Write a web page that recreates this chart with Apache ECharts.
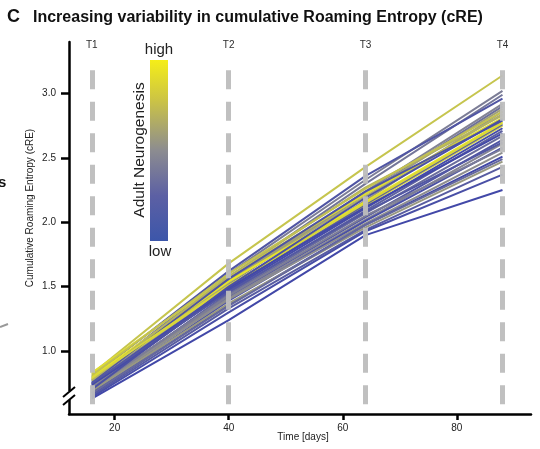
<!DOCTYPE html>
<html>
<head>
<meta charset="utf-8">
<script src="https://cdn.jsdelivr.net/npm/echarts@6/dist/echarts.min.js"></script>
<style>html,body{margin:0;padding:0;background:#fff;}#c{width:540px;height:449px;}</style>
</head>
<body>
<div id="c"></div>
<script>
// ---- data ----
var timepoints = [16, 40, 64, 88];
var timeLabels = ['T1', 'T2', 'T3', 'T4'];
var xTicks = [20, 40, 60, 80];
var yTicks = [1.0, 1.5, 2.0, 2.5, 3.0];
// adult neurogenesis (0 = low, 1 = high) per mouse
var neurogenesis = [0.82,0.40,0.35,0.10,0.45,0.30,0.62,0.55,0.68,0.95,1.00,0.90,0.08,0.15,0.03,0.20,0.00,0.28,0.10,0.48,0.05,0.52,0.00,0.58,0.15,0.05,0.00,0.72,0.80,0.12,0.40,0.92,0.25,0.06];
var creT1 = [0.82,0.77,0.75,0.80,0.74,0.73,0.78,0.72,0.79,0.83,0.80,0.78,0.76,0.71,0.73,0.69,0.74,0.70,0.68,0.72,0.67,0.70,0.66,0.69,0.65,0.64,0.63,0.77,0.81,0.75,0.71,0.79,0.67,0.70];
var creT2 = [1.68,1.60,1.57,1.62,1.53,1.52,1.55,1.49,1.53,1.58,1.54,1.50,1.56,1.48,1.47,1.45,1.49,1.44,1.42,1.41,1.39,1.40,1.36,1.37,1.33,1.30,1.24,1.58,1.60,1.46,1.43,1.51,1.35,1.50];
var creT3 = [2.43,2.33,2.30,2.36,2.24,2.22,2.22,2.17,2.20,2.22,2.16,2.13,2.24,2.14,2.11,2.09,2.12,2.07,2.04,2.02,2.01,1.99,1.98,1.96,1.94,1.93,1.90,2.27,2.26,2.08,2.05,2.15,1.98,2.19];
var creT4 = [3.14,3.02,2.99,2.96,2.92,2.90,2.88,2.86,2.84,2.81,2.78,2.75,2.79,2.76,2.73,2.71,2.69,2.67,2.64,2.61,2.58,2.54,2.51,2.47,2.43,2.37,2.25,2.83,2.86,2.62,2.57,2.77,2.49,2.80];

// ---- colour scale low (blue) -> mid (grey) -> high (yellow) ----
var stops = [[0, [66, 72, 168]], [0.5, [138, 138, 146]], [1, [232, 230, 40]]];
function ngColor(v) {
  for (var i = 0; i < stops.length - 1; i++) {
    var a = stops[i], b = stops[i + 1];
    if (v <= b[0]) {
      var t = (v - a[0]) / (b[0] - a[0]);
      var c = a[1].map(function (x, k) { return Math.round(x + (b[1][k] - x) * t); });
      return 'rgb(' + c.join(',') + ')';
    }
  }
  return 'rgb(' + stops[stops.length - 1][1].join(',') + ')';
}

var series = [];
for (var m = 0; m < neurogenesis.length; m++) {
  series.push({
    type: 'line', z: 2, symbol: 'none', silent: true,
    lineStyle: { color: ngColor(neurogenesis[m]), width: 2 },
    data: timepoints.map(function (t, i) {
      return [t, [creT1, creT2, creT3, creT4][i][m]];
    })
  });
}
series.push({
  type: 'line', data: [], z: 5, silent: true,
  markLine: {
    symbol: 'none', silent: true, animation: false,
    lineStyle: { color: '#bdbdbd', width: 5, type: [19, 12.5], cap: 'butt', opacity: 0.95 },
    label: { show: true, position: 'start', distance: 20, color: '#222', fontSize: 10, fontFamily: 'Liberation Sans', formatter: '{b}' },
    data: timepoints.map(function (t, i) {
      return [{ name: timeLabels[i], coord: [t, 3.18] }, { coord: [t, 0.51] }];
    })
  }
});

var chart = echarts.init(document.getElementById('c'));
chart.setOption({
  animation: false,
  backgroundColor: '#fff',
  grid: { left: 69, right: 9, top: 42, bottom: 35 },
  xAxis: {
    type: 'value', min: 12, max: 93,
    axisLine: { lineStyle: { color: '#000', width: 2.5 } },
    axisTick: { show: true, length: 6, lineStyle: { color: '#000', width: 2.5 }, customValues: xTicks },
    axisLabel: { color: '#222', fontSize: 10, fontFamily: 'Liberation Sans', margin: 9, customValues: xTicks },
    splitLine: { show: false }
  },
  yAxis: {
    type: 'value', min: 0.51, max: 3.4,
    axisLine: { show: true, lineStyle: { color: '#000', width: 2.5 } },
    axisTick: { show: true, length: 8, lineStyle: { color: '#000', width: 2.5 }, customValues: yTicks },
    axisLabel: { color: '#222', fontSize: 10, fontFamily: 'Liberation Sans', margin: 13, customValues: yTicks, formatter: function (v) { return v.toFixed(1); } },
    splitLine: { show: false }
  },
  series: series,
  graphic: [
    { type: 'text', left: 7, top: 8, style: { text: 'C', font: 'bold 18px "Liberation Sans"', fill: '#111' } },
    { type: 'text', left: 33, top: 10, style: { text: 'Increasing variability in cumulative Roaming Entropy (cRE)', font: 'bold 16px "Liberation Sans"', fill: '#111' } },
    { type: 'text', left: -2, top: 175, style: { text: 's', font: 'bold 15px "Liberation Sans"', fill: '#111' } },
    { type: 'line', shape: { x1: 0, y1: 327, x2: 8, y2: 324 }, style: { stroke: '#999', lineWidth: 2 } },
    { type: 'text', x: 30, y: 208, rotation: Math.PI / 2, style: { text: 'Cumulative Roaming Entropy (cRE)', font: '10px "Liberation Sans"', fill: '#222', textAlign: 'center', textVerticalAlign: 'middle' } },
    { type: 'text', x: 303, y: 437, style: { text: 'Time [days]', font: '10px "Liberation Sans"', fill: '#222', textAlign: 'center', textVerticalAlign: 'middle' } },
    // axis break marks
    { type: 'rect', shape: { x: 66, y: 391, width: 6, height: 9 }, style: { fill: '#fff' }, z: 100 },
    { type: 'line', shape: { x1: 63, y1: 397, x2: 75, y2: 387 }, style: { stroke: '#000', lineWidth: 2 }, z: 101 },
    { type: 'line', shape: { x1: 63, y1: 405, x2: 75, y2: 395 }, style: { stroke: '#000', lineWidth: 2 }, z: 101 },
    // colour bar
    { type: 'rect', z: 50, shape: { x: 150, y: 60, width: 18, height: 181 },
      style: { fill: new echarts.graphic.LinearGradient(0, 0, 0, 1, [
        { offset: 0, color: '#f5ee18' },
        { offset: 0.22, color: '#ccc444' },
        { offset: 0.5, color: '#8c8c90' },
        { offset: 0.75, color: '#5c60a4' },
        { offset: 1, color: '#3c56aa' }
      ]) } },
    { type: 'text', z: 50, x: 159, y: 50, style: { text: 'high', font: '15px "Liberation Sans"', fill: '#222', textAlign: 'center', textVerticalAlign: 'middle' } },
    { type: 'text', z: 50, x: 160, y: 252, style: { text: 'low', font: '15px "Liberation Sans"', fill: '#222', textAlign: 'center', textVerticalAlign: 'middle' } },
    { type: 'text', z: 50, x: 140, y: 150, rotation: Math.PI / 2, style: { text: 'Adult Neurogenesis', font: '15.5px "Liberation Sans"', fill: '#222', textAlign: 'center', textVerticalAlign: 'middle' } }
  ]
});
</script>
</body>
</html>
